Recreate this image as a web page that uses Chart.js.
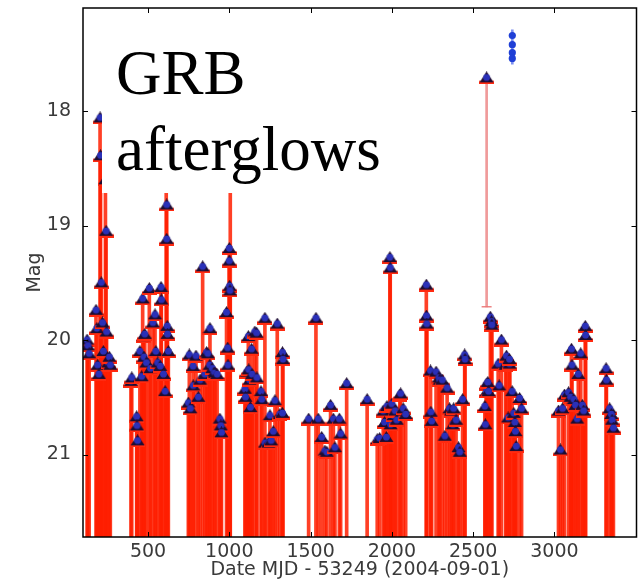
<!DOCTYPE html>
<html><head><meta charset="utf-8">
<script src="https://cdn.jsdelivr.net/npm/chart.js@4"></script>
<style>
html,body{margin:0;padding:0;background:#fff;}
#wrap{position:relative;width:643px;height:581px;}
#note{position:absolute;left:102px;top:20px;width:293px;height:173px;background:#fff;box-sizing:border-box;padding:15px 0 0 14px;font-family:'Liberation Serif','Times New Roman',serif;font-size:63px;line-height:76px;color:#000;white-space:nowrap;}
</style></head><body>
<div id="wrap"><canvas id="c" width="643" height="581"></canvas><div id="note">GRB<br>afterglows</div></div>
<script>
// ---- data ----
const xTicks = [500, 1000, 1500, 2000, 2500, 3000];
const yTicks = [18, 19, 20, 21];

// upper-limit style points (marker + red line down to the bottom)
const limitDates = [
  125,130,138,180,185,190,198,205,208,212,220,225,238,242,245,255,262,268,
  395,400,430,432,436,450,461,467,471,475,480,490,508,515,530,543,548,560,575,580,582,595,605,612,615,615,618,620,625,
  748,754,760,777,778,795,809,820,836,850,860,868,880,881,895,906,912,925,942,948,952,
  983,990,992,1000,1000,1002,1004,1006,
  1096,1100,1107,1117,1120,1125,1130,1137,1140,1157,1168,1170,1195,1200,1219,1220,1240,1250,1257,1270,1281,1295,1311,1327,1327,1330,
  1488,1533,1547,1568,1588,1600,1623,1640,1650,1677,1685,1722,
  1848,1910,1925,1947,1955,1966,1970,1988,1990,1992,2000,2010,2020,2030,2049,2054,2070,2085,
  2212,2213,2215,2238,2240,2245,2272,2290,2295,2310,2326,2340,2355,2365,2375,2380,2395,2410,2418,2435,2448,2450,
  2572,2575,2580,2583,2590,2595,2606,2613,2615,2654,2660,2674,2705,2700,2725,2715,2724,2740,2750,2757,2760,2765,2786,2798,
  3025,3037,3050,3062,3087,3100,3105,3108,3120,3130,3140,3147,3162,3172,3180,3190,3192,
  3318,3320,3340,3350,3355,3363
];
const limitMags = [
  20.00,20.05,20.12,19.74,19.90,20.22,20.30,18.06,18.39,19.50,19.85,20.10,18.60,19.05,19.93,20.20,20.15,20.22,
  20.36,20.33,20.67,20.75,20.88,20.10,20.32,19.64,19.97,20.15,19.95,20.20,19.55,20.25,19.85,19.78,20.10,20.20,20.23,19.54,19.65,20.30,20.45,18.40,18.82,19.12,19.88,19.95,20.10,
  20.55,20.13,20.60,20.23,20.40,20.14,20.50,20.35,19.36,20.30,20.11,20.12,20.22,19.90,20.25,20.29,20.29,20.30,20.69,20.75,20.81,
  19.76,20.07,20.22,19.20,19.31,19.53,19.57,18.50,
  20.43,20.50,20.28,19.97,20.26,20.35,20.59,20.08,20.30,19.93,19.94,20.33,20.45,20.52,19.81,20.90,20.90,20.66,20.88,20.80,20.53,19.86,20.65,20.11,20.64,20.17,
  20.69,19.81,20.69,20.85,20.97,20.98,20.57,20.69,20.94,20.69,20.82,20.38,
  20.52,20.87,20.86,20.62,20.72,20.85,20.58,19.28,19.37,20.74,20.56,20.66,20.62,20.70,20.48,20.47,20.60,20.65,
  19.52,19.79,19.86,20.27,20.63,20.71,20.28,20.33,20.35,20.35,20.84,20.42,20.60,20.62,20.74,20.60,20.70,20.94,20.98,20.52,20.13,20.17,
  20.58,20.74,20.39,20.45,20.37,20.45,19.80,19.84,19.87,20.21,20.40,20.00,20.14,20.22,20.21,20.68,20.17,20.45,20.64,20.72,20.80,20.93,20.51,20.60,
  20.62,20.96,20.60,20.48,20.46,20.50,20.08,20.22,20.52,20.57,20.69,20.30,20.12,20.57,20.62,19.88,19.96,
  20.25,20.35,20.60,20.65,20.70,20.77
];

// bright detection with a one-sided error bar
const detDates = [2583];
const detMags = [17.71];
const detErrEnd = [19.71];

// blue-only points
const blueDates = [2741, 2741, 2741, 2741];
const blueMags = [17.34, 17.42, 17.49, 17.54];
const blueErrTop = [17.29];
const blueErrBottom = [17.59];

const axisBottomMag = 22;

// ---- marker image ----
function makeMarker(){
  const c = document.createElement('canvas'); c.width = 15; c.height = 13;
  const g = c.getContext('2d');
  g.fillStyle = '#ff2a10'; g.fillRect(0, 9.5, 15, 3.5);
  g.fillStyle = '#1e0c30';
  g.beginPath(); g.moveTo(7.5, 0); g.lineTo(0.5, 11); g.lineTo(14.5, 11); g.closePath(); g.fill();
  g.fillStyle = '#2a30b8';
  g.beginPath(); g.arc(7.5, 6.2, 3.4, 0, Math.PI * 2); g.fill();
  return c;
}
const marker = makeMarker();

const frame = {
  id: 'frame',
  afterDatasetsDraw(chart){
    const {ctx, chartArea: a, scales: {x, y}} = chart;
    ctx.save();
    ctx.strokeStyle = '#000'; ctx.lineWidth = 1;
    ctx.beginPath();
    xTicks.forEach(v => { const p = Math.round(x.getPixelForValue(v)) + 0.5;
      ctx.moveTo(p, a.bottom); ctx.lineTo(p, a.bottom - 5); ctx.moveTo(p, a.top); ctx.lineTo(p, a.top + 5); });
    yTicks.forEach(v => { const p = Math.round(y.getPixelForValue(v)) + 0.5;
      ctx.moveTo(a.left, p); ctx.lineTo(a.left + 5, p); ctx.moveTo(a.right, p); ctx.lineTo(a.right - 5, p); });
    ctx.stroke();
    ctx.lineWidth = 1.5;
    ctx.strokeRect(a.left, a.top, a.width, a.height);
    ctx.restore();
  }
};

const tickFont = {family: 'DejaVu Sans', size: 19};
new Chart(document.getElementById('c'), {
  type: 'bar',
  data: {
    datasets: [
      { type: 'bar', order: 5, grouped: false, barThickness: 3,
        backgroundColor: 'rgba(255,30,0,0.85)',
        data: limitDates.map((d, i) => ({x: d, y: [limitMags[i], axisBottomMag]})) },
      { type: 'bar', order: 4, grouped: false, barThickness: 2,
        backgroundColor: 'rgba(235,120,120,0.75)',
        data: detDates.map((d, i) => ({x: d, y: [detMags[i], detErrEnd[i]]})) },
      { type: 'scatter', order: 3, pointStyle: 'line', radius: 5, borderWidth: 1.5,
        borderColor: 'rgba(235,120,120,0.9)',
        data: detDates.map((d, i) => ({x: d, y: detErrEnd[i]})) },
      { type: 'bar', order: 4, grouped: false, barThickness: 2,
        backgroundColor: 'rgba(40,70,230,0.6)',
        data: [{x: blueDates[0], y: [blueErrTop[0], blueErrBottom[0]]}] },
      { type: 'scatter', order: 1, pointStyle: marker, radius: 5,
        data: limitDates.map((d, i) => ({x: d, y: limitMags[i]})).concat(detDates.map((d, i) => ({x: d, y: detMags[i]}))) },
      { type: 'scatter', order: 1, pointStyle: 'circle', radius: 3.6, borderWidth: 0,
        backgroundColor: '#1f3fd6',
        data: blueDates.map((d, i) => ({x: d, y: blueMags[i]})) }
    ]
  },
  options: {
    responsive: false, animation: false, events: [],
    layout: {padding: {left: 0, right: 6, top: 8, bottom: 0}},
    plugins: {legend: {display: false}, tooltip: {enabled: false}},
    scales: {
      x: {
        type: 'linear', min: 100, max: 3505, offset: false,
        grid: {display: false, drawTicks: false}, border: {display: false},
        afterBuildTicks: s => { s.ticks = xTicks.map(v => ({value: v})); },
        afterFit: s => { s.height = 44; s.paddingLeft = 0; s.paddingRight = 0; },
        ticks: {padding: 4, color: '#3a3a3a', font: tickFont, maxRotation: 0, autoSkip: false, callback: v => String(v)},
        title: {display: true, text: 'Date MJD - 53249 (2004-09-01)', color: '#3a3a3a', font: tickFont, padding: {top: 0, bottom: 0}}
      },
      y: {
        type: 'linear', reverse: true, min: 17.1, max: 21.72,
        grid: {display: false, drawTicks: false}, border: {display: false},
        afterBuildTicks: s => { s.ticks = yTicks.map(v => ({value: v})); },
        afterFit: s => { s.width = 83; s.paddingTop = 0; s.paddingBottom = 0; },
        ticks: {padding: 12, color: '#3a3a3a', font: tickFont, callback: v => String(v)},
        title: {display: true, text: 'Mag', color: '#3a3a3a', font: tickFont, padding: {top: 24, bottom: 0}}
      }
    }
  },
  plugins: [frame]
});
</script>
</body></html>
